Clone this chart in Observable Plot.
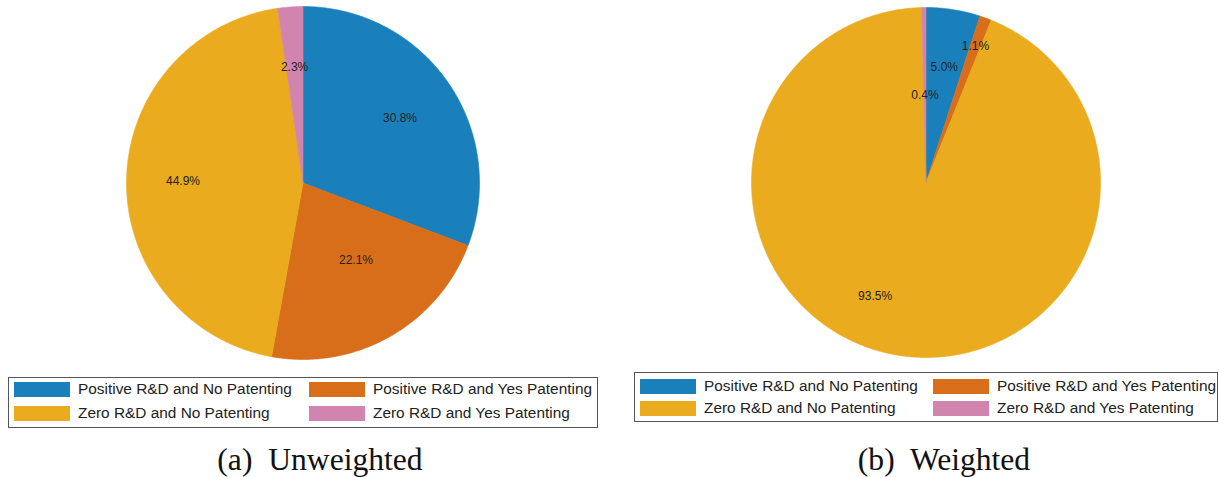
<!DOCTYPE html>
<html>
<head>
<meta charset="utf-8">
<script src="https://cdn.jsdelivr.net/npm/d3@7"></script>
<script src="https://cdn.jsdelivr.net/npm/@observablehq/plot@0.6"></script>
<style>
  html, body { margin: 0; padding: 0; background: #fff; width: 1219px; height: 477px; overflow: hidden; }
  .panel { position: absolute; top: 0; }
  .legend { position: absolute; border: 1.3px solid #555; box-sizing: border-box; background: #fff;
            font-family: "Liberation Sans", Arial, sans-serif; font-size: 15.4px; color: #222; }
  .item { position: absolute; display: flex; align-items: center; white-space: nowrap; height: 16px; }
  .sw { width: 56px; height: 15px; margin-right: 8px; flex: none; }
  .caption { position: absolute; font-family: "Liberation Serif", "Times New Roman", serif; font-size: 31.6px; color: #111; white-space: pre; transform: translateX(-50%); }
</style>
</head>
<body>
<div id="root"></div>
<script>
const categories = [
  "Positive R&D and No Patenting",
  "Positive R&D and Yes Patenting",
  "Zero R&D and No Patenting",
  "Zero R&D and Yes Patenting"
];
const unweighted = [30.8, 22.1, 44.9, 2.3];
const weighted = [5.0, 1.1, 93.5, 0.4];
const colors = ["#1a80bb", "#d86e1a", "#eaab1e", "#d184ad"];
const captions = ["(a)  Unweighted", "(b)  Weighted"];

// label placement styles (fraction of radius, angle nudge in degrees)
const unweightedLabelR = [0.66, 0.53, 0.68, 0.66];
const unweightedLabelNudge = [1, -5, 0, 0];
const weightedLabelR = [0.67, 0.83, 0.71, 0.50];
const weightedLabelNudge = [0, 0, 14, 0];

function pieData(values, labelR, nudge) {
  const total = d3.sum(values);
  const arcs = [];
  const labels = [];
  let start = 0;
  values.forEach((v, i) => {
    const a0 = start / total * 2 * Math.PI;
    const a1 = (start + v) / total * 2 * Math.PI;
    start += v;
    const n = Math.max(2, Math.ceil((a1 - a0) / (Math.PI / 360)));
    arcs.push({key: categories[i], x: 0, y: 0});
    for (let k = 0; k <= n; k++) {
      const a = a0 + (a1 - a0) * k / n;
      arcs.push({key: categories[i], x: Math.sin(a), y: Math.cos(a)});
    }
    arcs.push({key: categories[i], x: 0, y: 0});
    const am = (a0 + a1) / 2 + nudge[i] * Math.PI / 180;
    labels.push({key: categories[i], x: labelR[i] * Math.sin(am), y: labelR[i] * Math.cos(am), text: v.toFixed(1) + "%"});
  });
  return {arcs, labels};
}

function makePie(values, labelR, nudge, m) {
  const {arcs, labels} = pieData(values, labelR, nudge);
  return Plot.plot({
    width: 610,
    height: 365,
    marginLeft: m.left, marginRight: m.right, marginTop: m.top, marginBottom: m.bottom,
    x: {domain: [-1, 1], axis: null},
    y: {domain: [-1, 1], axis: null},
    color: {type: "ordinal", domain: categories, range: colors},
    style: {fontFamily: "'Liberation Sans', Arial, sans-serif", background: "transparent"},
    marks: [
      Plot.line(arcs, {x: "x", y: "y", z: "key", fill: "key", stroke: "key", strokeWidth: 0.6, curve: "linear"}),
      Plot.text(labels, {x: "x", y: "y", text: "text", fill: "#222", fontSize: 12})
    ]
  });
}

const root = document.getElementById("root");
const specs = [
  {values: unweighted, r: unweightedLabelR, n: unweightedLabelNudge, left: 0,
   m: {left: 126, right: 131, top: 6, bottom: 6},
   legend: {x: 8, y: 377, w: 590, h: 51, col2: 295, row1: 11, row2: 35, pad: 5}, cap: {x: 320, y: 442}},
  {values: weighted, r: weightedLabelR, n: weightedLabelNudge, left: 609,
   m: {left: 142, right: 119, top: 7, bottom: 8},
   legend: {x: 634, y: 372, w: 584, h: 50, col2: 293, row1: 13, row2: 35, pad: 5}, cap: {x: 944, y: 442}}
];

specs.forEach((s, p) => {
  const div = document.createElement("div");
  div.className = "panel";
  div.style.left = s.left + "px";
  div.appendChild(makePie(s.values, s.r, s.n, s.m));
  root.appendChild(div);

  const lg = document.createElement("div");
  lg.className = "legend";
  lg.style.left = s.legend.x + "px";
  lg.style.top = s.legend.y + "px";
  lg.style.width = s.legend.w + "px";
  lg.style.height = s.legend.h + "px";
  categories.forEach((c, i) => {
    const it = document.createElement("div");
    it.className = "item";
    it.style.left = (s.legend.pad + (i % 2) * s.legend.col2) + "px";
    it.style.top = (i < 2 ? s.legend.row1 : s.legend.row2) - 8 + "px";
    const sw = document.createElement("span");
    sw.className = "sw";
    sw.style.background = colors[i];
    const tx = document.createElement("span");
    tx.textContent = c;
    it.appendChild(sw);
    it.appendChild(tx);
    lg.appendChild(it);
  });
  root.appendChild(lg);

  const cap = document.createElement("div");
  cap.className = "caption";
  cap.style.left = s.cap.x + "px";
  cap.style.top = s.cap.y + "px";
  cap.textContent = captions[p];
  root.appendChild(cap);
});
</script>
</body>
</html>
